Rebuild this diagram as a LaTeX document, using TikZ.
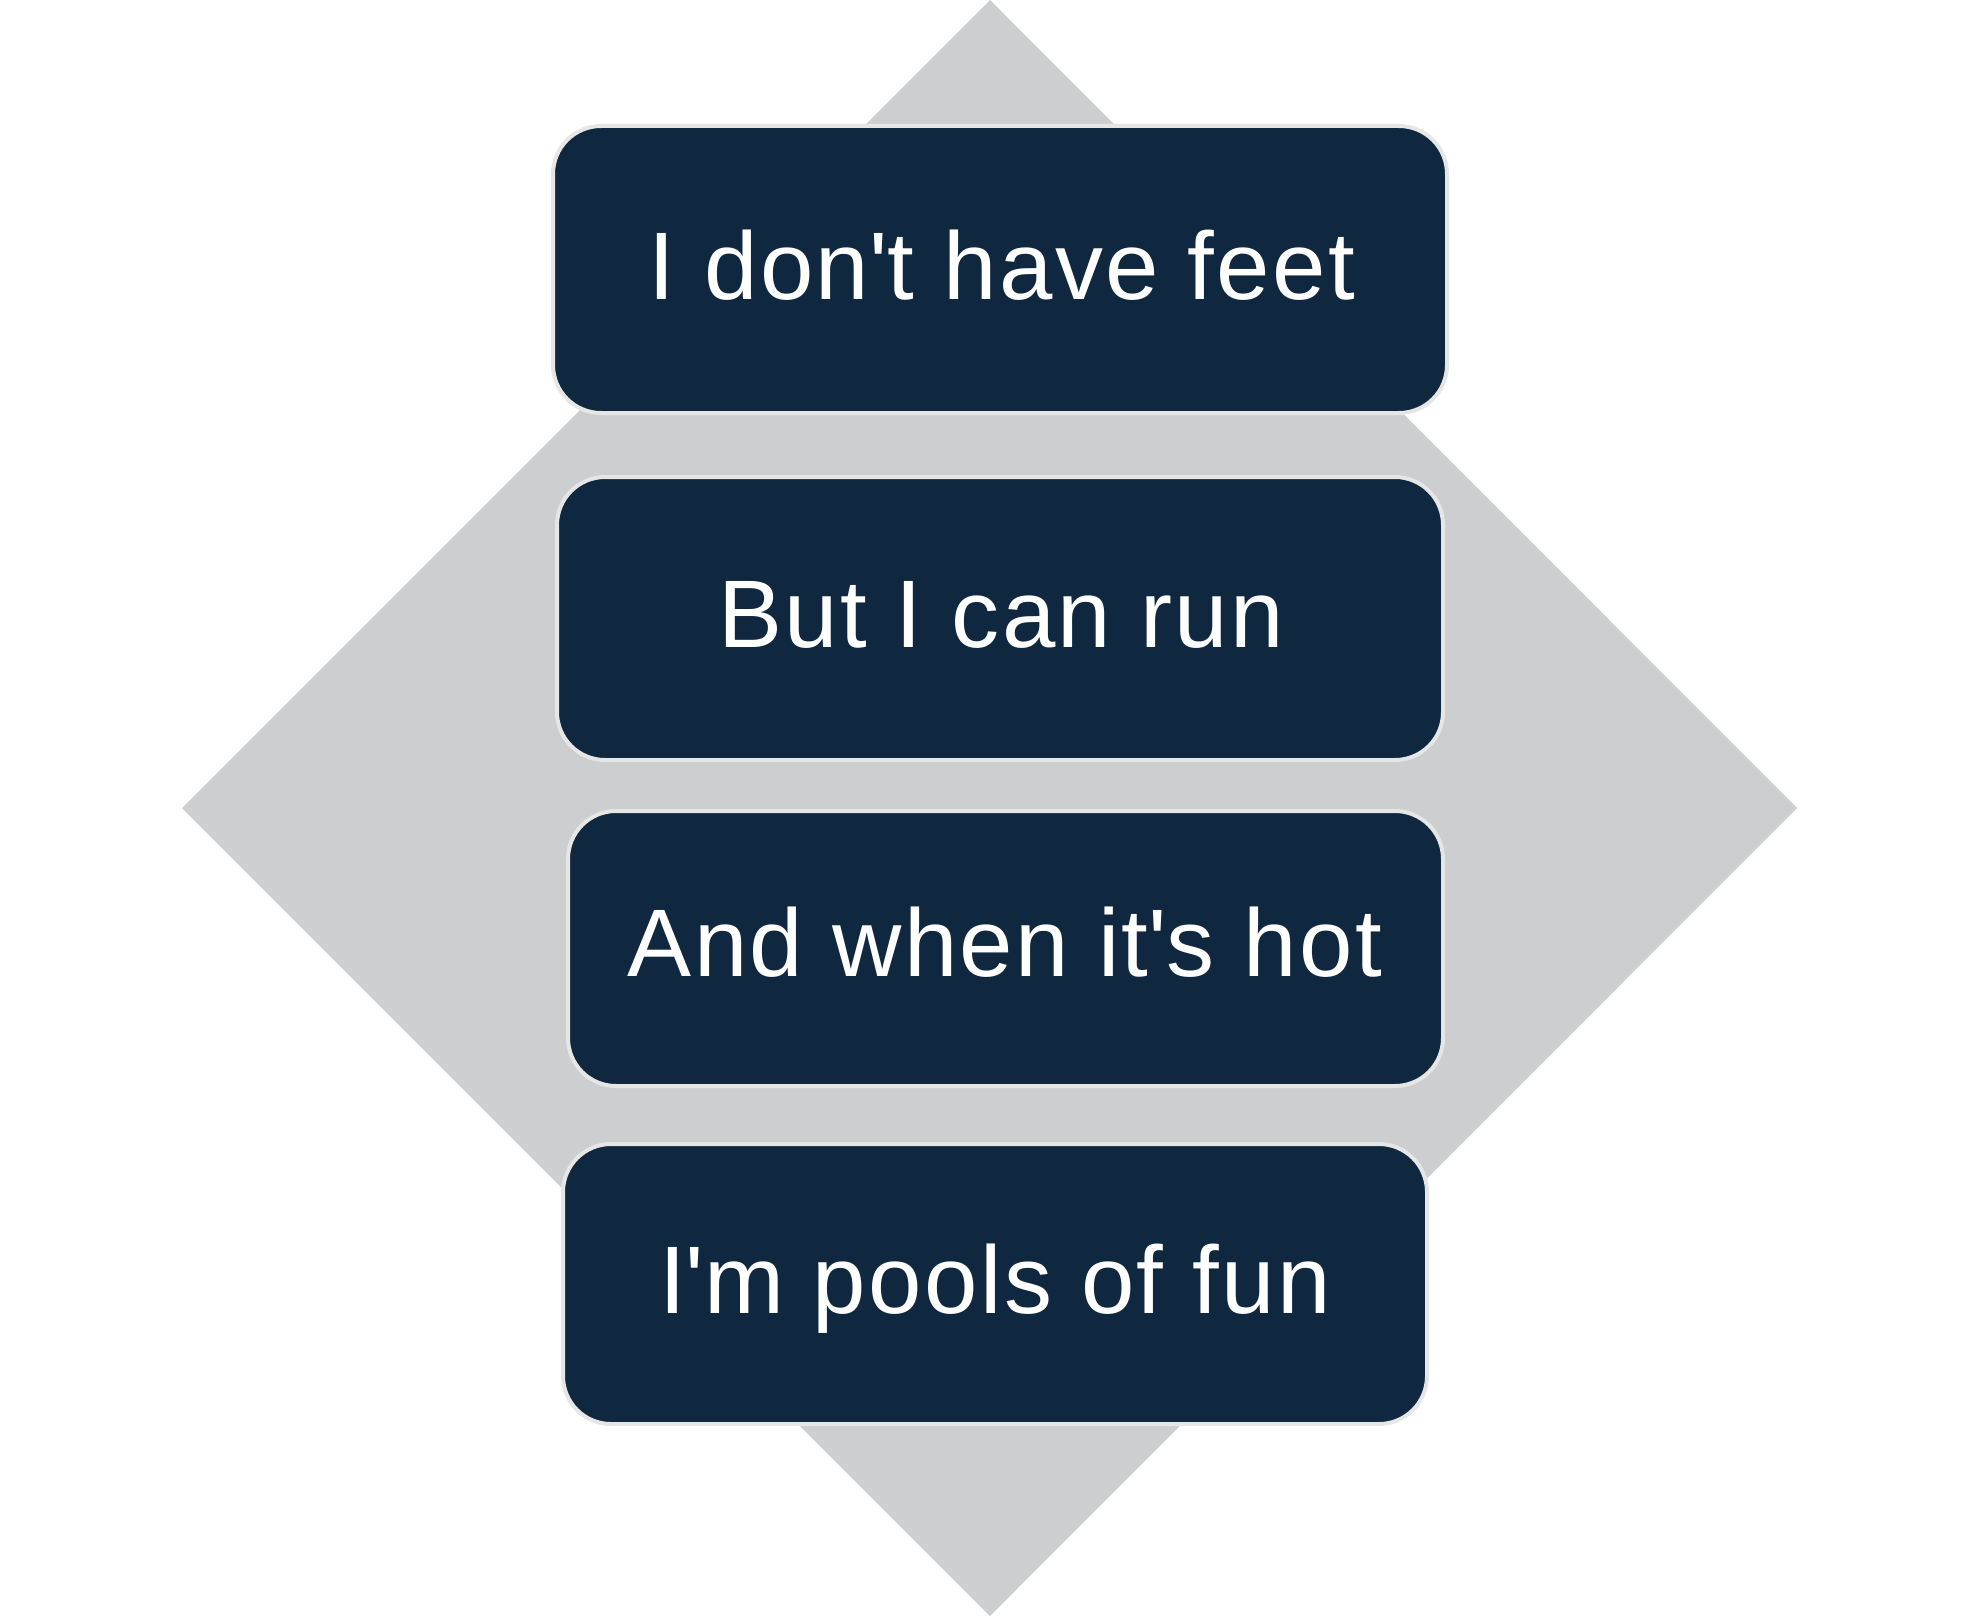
\documentclass[tikz,border=0pt]{standalone}
\usepackage{fontspec}
\setmainfont{Liberation Sans}[LetterSpace=2.5]
\definecolor{diam}{HTML}{CDCED0}
\definecolor{navy}{HTML}{10283F}
\definecolor{rim}{HTML}{E6E6E6}
\begin{document}
\begin{tikzpicture}[x=1pt,y=-1pt,
  card/.style={draw=rim,line width=4pt,fill=navy,rounded corners=48pt},
  lbl/.style={text=white,font=\fontsize{96}{110}\selectfont,anchor=base,inner sep=0pt}]
\useasboundingbox (0,0) rectangle (1980,1616);
\fill[diam] (990,0) coordinate (dt) -- (1797,808) coordinate (dr) -- (990,1616) coordinate (db) -- (182,808) coordinate (dl) -- cycle;
\draw[card] (553,126) rectangle (1447,413);
\draw[card] (557,477) rectangle (1443,760);
\draw[card] (568,811) rectangle (1443,1086);
\draw[card] (563,1144) rectangle (1427,1424);
\node[lbl] (t1) at (1002,299) {I don\textquotesingle t have feet};
\node[lbl] (t2) at (1001,647) {But I can run};
\node[lbl] (t3) at (1005,976) {And when it\textquotesingle s hot};
\node[lbl] (t4) at (995,1313) {I\textquotesingle m pools of fun};
\end{tikzpicture}
\end{document}
